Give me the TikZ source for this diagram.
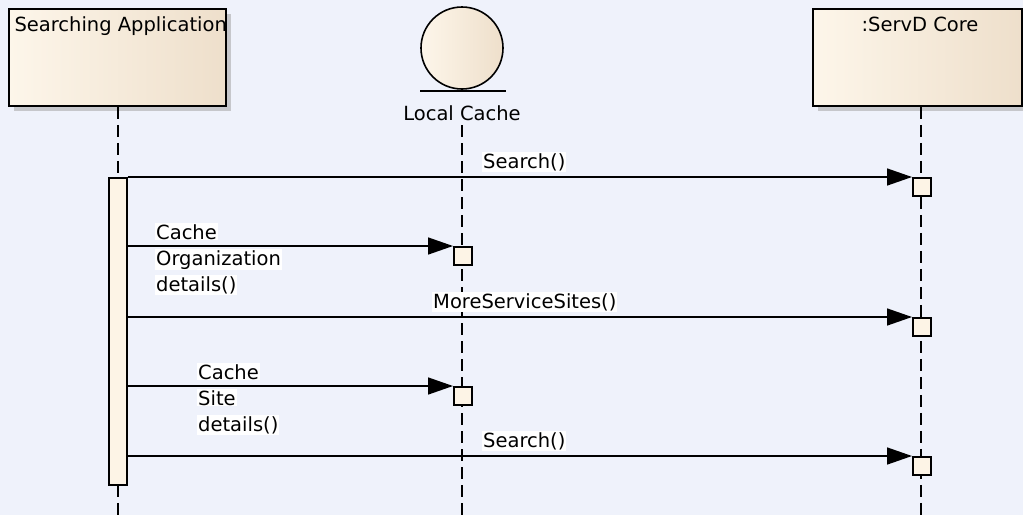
\documentclass[tikz,border=0pt]{standalone}
\usepackage{fontspec}
\setmainfont{DejaVu Sans}
\usetikzlibrary{arrows.meta}
\definecolor{bg}{HTML}{EFF2FB}
\definecolor{boxL}{HTML}{FDF6EA}
\definecolor{boxR}{HTML}{EEDFCB}
\definecolor{shad}{HTML}{C6C7CB}
\definecolor{actfill}{HTML}{FDF4E6}
\tikzset{
  lbl/.style={font=\fontsize{19.5}{23}\selectfont},
  objbox/.style={draw=black, line width=1.8pt, left color=boxL, right color=boxR, minimum width=217pt, minimum height=97pt, inner sep=0pt, anchor=north west},
  shadowbox/.style={fill=shad, minimum width=217pt, minimum height=97pt, inner sep=0pt, anchor=north west},
  lifeline/.style={line width=1.6pt, dash pattern=on 12pt off 6pt},
  execbox/.style={draw=black, line width=1.5pt, fill=actfill, minimum width=18pt, minimum height=18pt, inner sep=0pt, anchor=north west},
  msg/.style={line width=1.5pt, -{Triangle[length=25pt,width=17pt]}, shorten >=0pt},
  msglbl/.style={lbl, fill=white, inner sep=1pt, anchor=base west},
}
\begin{document}
\begin{tikzpicture}[x=1pt,y=-1pt]
\useasboundingbox[fill=bg] (0,0) rectangle (1023,515);
% object boxes
\node[shadowbox] at (14,14) {};
\node[objbox] (app) at (8,8) {};
\node[lbl, anchor=base west] (apptxt) at (11,31) {Searching Application};
\node[shadowbox, minimum width=209pt] at (818,14) {};
\node[objbox, minimum width=209pt] (core) at (812,8) {};
\node[lbl, anchor=base] (coretxt) at (920,31) {:ServD Core};
% entity
\node[circle, draw=black, line width=1.6pt, left color=boxL, right color=boxR, minimum size=82pt, inner sep=0pt] (cache) at (462,48) {};
\coordinate (ulL) at (420,91);
\coordinate (ulR) at (506,91);
\draw[line width=1.6pt] (ulL) -- (ulR);
\node[lbl, anchor=base] (cachetxt) at (462,120) {Local Cache};
% lifelines
\coordinate (l1end) at (118,515);
\coordinate (l2top) at (462,125);
\coordinate (l2end) at (462,515);
\coordinate (l3end) at (921,515);
\draw[lifeline] (app.south -| l1end) -- (l1end);
\draw[lifeline] (l2top) -- (l2end);
\draw[lifeline] (core.south -| l3end) -- (l3end);
% activation
\node[draw=black, line width=1.5pt, fill=actfill, minimum width=18pt, minimum height=307pt, inner sep=0pt, anchor=north west] (act) at (108,177) {};
% execution boxes
\node[execbox] (e1) at (912,177) {};
\node[execbox] (e2) at (453,246) {};
\node[execbox] (e3) at (912,317) {};
\node[execbox] (e4) at (453,386) {};
\node[execbox] (e5) at (912,456) {};
% messages
\draw[msg] (act.east |- e1.north west) -- (e1.north west);
\draw[msg] (act.east |- e2.north west) -- (e2.north west);
\draw[msg] (act.east |- e3.north west) -- (e3.north west);
\draw[msg] (act.east |- e4.north west) -- (e4.north west);
\draw[msg] (act.east |- e5.north west) -- (e5.north west);
% labels
\node[msglbl] (t1) at (482,168) {Search()};
\node[msglbl] (t2a) at (155,239) {Cache};
\node[msglbl] (t2b) at (155,265) {Organization};
\node[msglbl] (t2c) at (155,291) {details()};
\node[msglbl] (t3) at (432,308) {MoreServiceSites()};
\node[msglbl] (t4a) at (197,379) {Cache};
\node[msglbl] (t4b) at (197,405) {Site};
\node[msglbl] (t4c) at (197,431) {details()};
\node[msglbl] (t5) at (482,447) {Search()};
\end{tikzpicture}
\end{document}
